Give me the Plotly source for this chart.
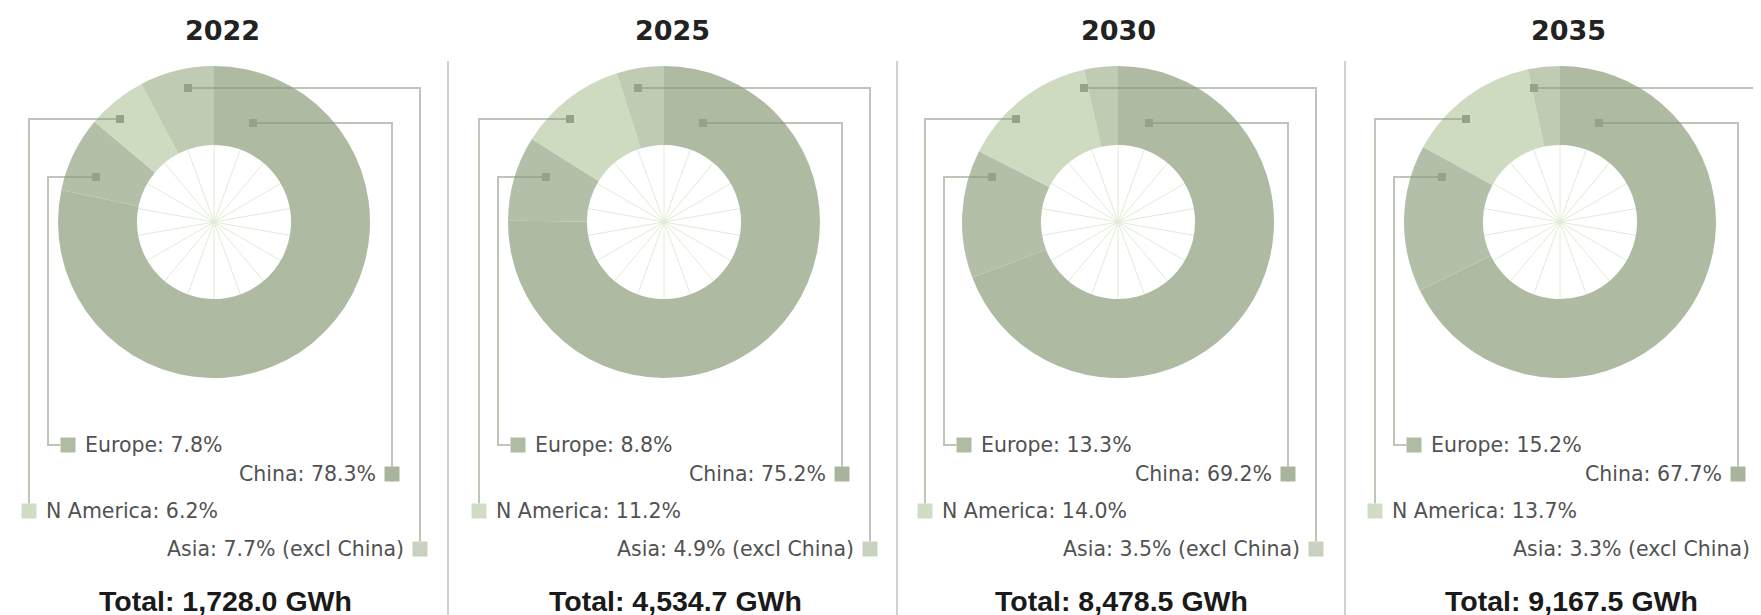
import math
import plotly.graph_objects as go

# ---------------- data ----------------
years = ["2022", "2025", "2030", "2035"]
regions = ["China", "Europe", "N America", "Asia"]
china = [78.3, 75.2, 69.2, 67.7]
europe = [7.8, 8.8, 13.3, 15.2]
n_america = [6.2, 11.2, 14.0, 13.7]
asia = [7.7, 4.9, 3.5, 3.3]
totals_gwh = [1728.0, 4534.7, 8478.5, 9167.5]

# ---------------- style / layout ----------------
W, H = 1761, 615
seg_colors = ["#AEBBA2", "#B3BFA8", "#CEDBC1", "#BFCCB3"]
square_colors = ["#A8B49B", "#AFBBA3", "#D0DCC4", "#C8D2BE"]
dot_color = "#96A28C"
lead_color = "rgba(140,150,130,0.55)"
sep_color = "#D0D0D0"
spoke_color = "#E0ECD6"
label_font = dict(family="DejaVu Sans", size=20.5, color="#525252")

anchors = [206, 656, 1102, 1552]      # leader template anchor x per panel
centers = [206, 656, 1110, 1552]      # donut centre x per panel
cy = 214
R_OUT = 156
HOLE = 0.494
separators = [440, 889, 1337]

# leader template (relative to anchor), order China, Europe, N America, Asia
dot_dx = [39, -118, -94, -26]
dot_y = [115, 169, 111, 80]
line_dx = [178, -166, -185, 206]
label_y = [466, 437, 503, 541]
sq_dx = [178, -146, -185, 206]
SQ = 15
DOT = 8

fig = go.Figure()

# invisible cartesian axes in pixel units for decorations
fig.add_trace(go.Scatter(x=[0, W], y=[0, H], mode="markers",
                         marker=dict(opacity=0), hoverinfo="skip", showlegend=False))

shapes = []
annotations = []

for i, yr in enumerate(years):
    vals = [china[i], europe[i], n_america[i], asia[i]]
    cx = centers[i]
    ax = anchors[i]
    fig.add_trace(go.Pie(
        values=vals, labels=regions, sort=False, direction="clockwise", rotation=0,
        hole=HOLE, textinfo="none", hoverinfo="label+percent",
        marker=dict(colors=seg_colors, line=dict(width=0)),
        domain=dict(x=[(cx - R_OUT) / W, (cx + R_OUT) / W],
                    y=[1 - (cy + R_OUT) / H, 1 - (cy - R_OUT) / H]),
        showlegend=False,
    ))

    # spokes inside the hole
    r_in = R_OUT * HOLE
    for k in range(18):
        a = math.radians(k * 20)
        shapes.append(dict(type="line", xref="x", yref="y", layer="below",
                           x0=cx, y0=cy, x1=cx + r_in * math.sin(a), y1=cy - r_in * math.cos(a),
                           line=dict(color=spoke_color, width=1)))

    labels_txt = [f"China: {china[i]:.1f}%", f"Europe: {europe[i]:.1f}%",
                  f"N America: {n_america[i]:.1f}%", f"Asia: {asia[i]:.1f}% (excl China)"]

    for j in range(4):
        dx = ax + dot_dx[j]
        dy = dot_y[j]
        lx = ax + line_dx[j]
        ly = label_y[j]
        sx = ax + sq_dx[j]
        if j == 1:  # Europe: hook into square
            path = f"M {dx},{dy} H {lx} V {ly} H {sx - SQ/2}"
        else:
            path = f"M {dx},{dy} H {lx} V {ly - SQ/2}"
        shapes.append(dict(type="path", xref="x", yref="y", layer="above", path=path,
                           line=dict(color=lead_color, width=2)))
        shapes.append(dict(type="rect", xref="x", yref="y", layer="above",
                           x0=dx - DOT/2, x1=dx + DOT/2, y0=dy - DOT/2, y1=dy + DOT/2,
                           fillcolor=dot_color, line=dict(width=0)))
        shapes.append(dict(type="rect", xref="x", yref="y", layer="above",
                           x0=sx - SQ/2, x1=sx + SQ/2, y0=ly - SQ/2, y1=ly + SQ/2,
                           fillcolor=square_colors[j], line=dict(width=0)))
        if j in (1, 2):
            annotations.append(dict(x=sx + SQ/2 + 7, y=ly, xref="x", yref="y",
                                    text=labels_txt[j], showarrow=False,
                                    xanchor="left", yanchor="middle", font=label_font))
        else:
            annotations.append(dict(x=sx - SQ/2 - 7, y=ly, xref="x", yref="y",
                                    text=labels_txt[j], showarrow=False,
                                    xanchor="right", yanchor="middle", font=label_font))

    annotations.append(dict(x=ax + 8, y=22, xref="x", yref="y", text=f"<b>{yr}</b>",
                            showarrow=False, xanchor="center", yanchor="middle",
                            font=dict(family="DejaVu Sans", size=27, color="#222222")))
    annotations.append(dict(x=ax + 11, y=593, xref="x", yref="y",
                            text=f"<b>Total: {totals_gwh[i]:,.1f} GWh</b>",
                            showarrow=False, xanchor="center", yanchor="middle",
                            font=dict(family="Liberation Sans", size=28.5, color="#1A1A1A")))

for sxp in separators:
    shapes.append(dict(type="line", xref="x", yref="y", layer="below",
                       x0=sxp, x1=sxp, y0=53, y1=H, line=dict(color=sep_color, width=2)))

fig.update_layout(
    width=W, height=H, margin=dict(l=0, r=0, t=0, b=0),
    paper_bgcolor="white", plot_bgcolor="white",
    xaxis=dict(range=[0, W], visible=False, fixedrange=True, domain=[0, 1]),
    yaxis=dict(range=[H, 0], visible=False, fixedrange=True, domain=[0, 1]),
    shapes=shapes, annotations=annotations, showlegend=False,
)

fig.write_html("out.html")
